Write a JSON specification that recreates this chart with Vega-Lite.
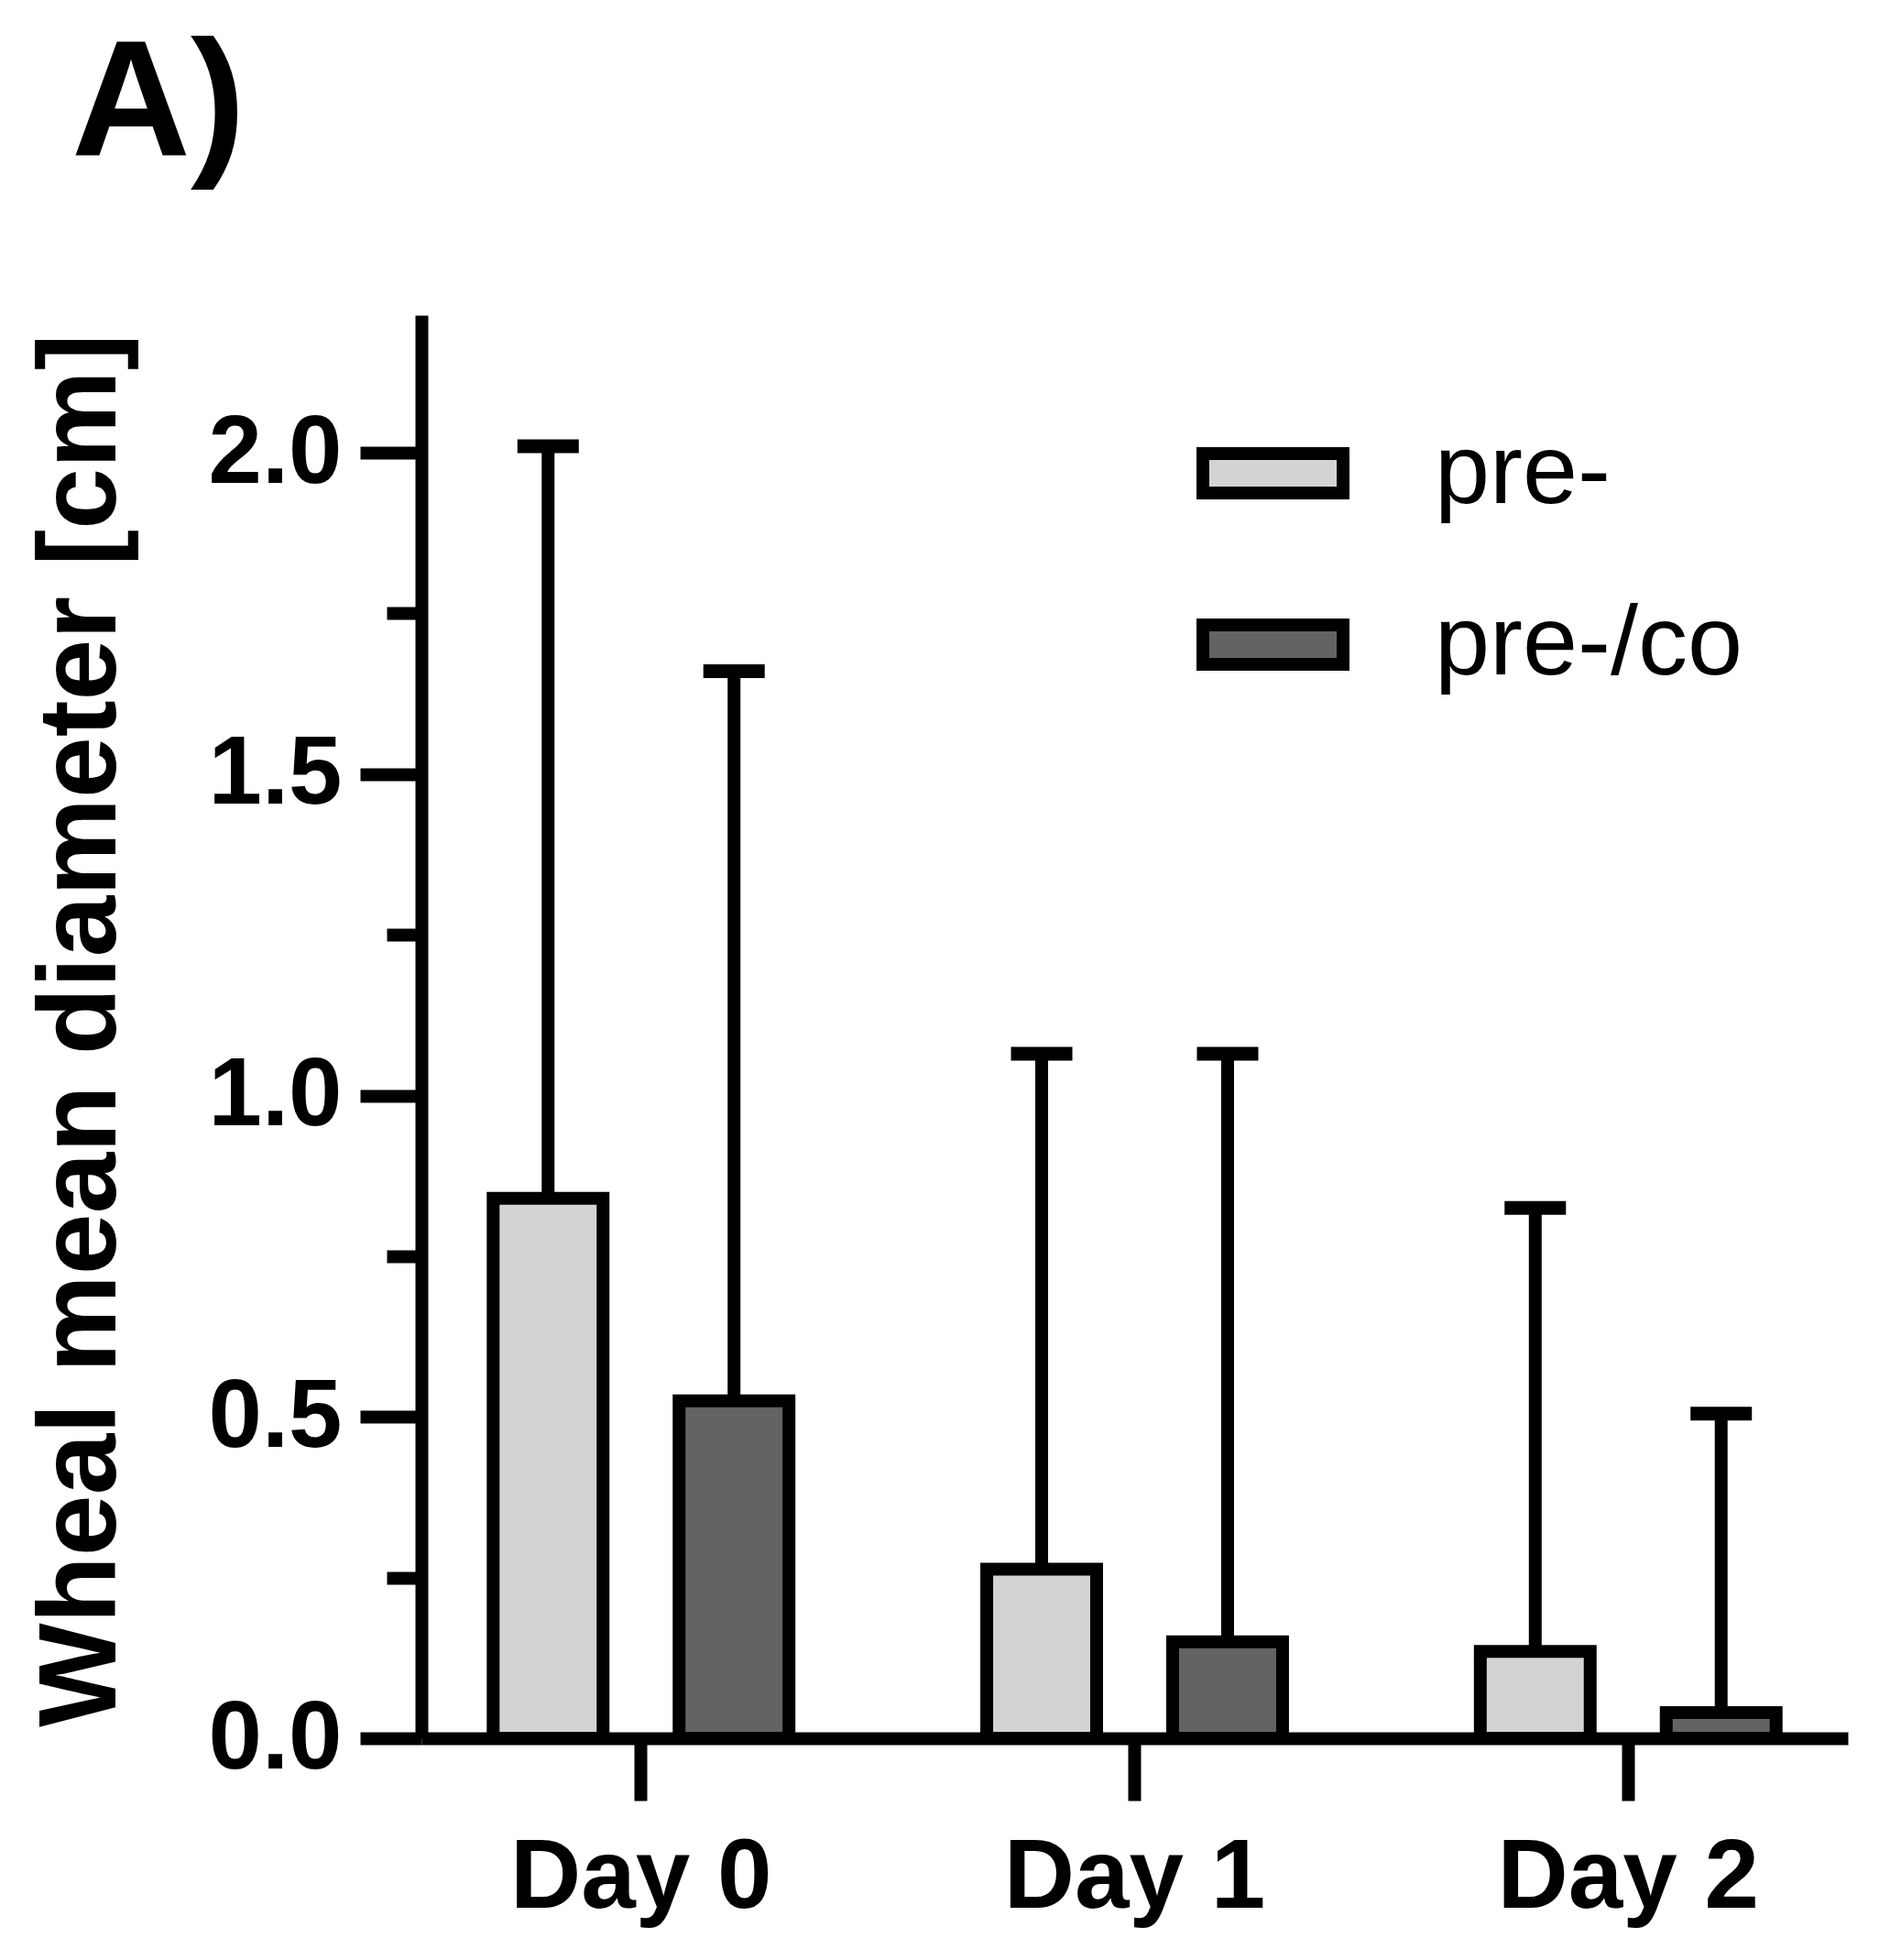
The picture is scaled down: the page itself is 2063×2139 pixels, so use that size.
{
  "$schema": "https://vega.github.io/schema/vega-lite/v6.json",
  "autosize": "none",
  "padding": {"left": 460, "top": 344, "right": 46, "bottom": 242},
  "width": 1557,
  "height": 1553,
  "background": "white",
  "config": {
    "view": {"stroke": null},
    "font": "Liberation Sans"
  },
  "title": {
    "text": "A)",
    "anchor": "start",
    "frame": "group",
    "baseline": "alphabetic",
    "offset": -6,
    "dx": -382,
    "fontSize": 180,
    "fontWeight": "bold",
    "font": "Liberation Sans",
    "color": "black"
  },
  "data": {
    "values": [
      {"day": "Day 0", "group": "pre-", "mean": 0.84, "upper": 2.01},
      {"day": "Day 0", "group": "pre-/co", "mean": 0.525, "upper": 1.66},
      {"day": "Day 1", "group": "pre-", "mean": 0.263, "upper": 1.065},
      {"day": "Day 1", "group": "pre-/co", "mean": 0.15, "upper": 1.065},
      {"day": "Day 2", "group": "pre-", "mean": 0.135, "upper": 0.825},
      {"day": "Day 2", "group": "pre-/co", "mean": 0.04, "upper": 0.505}
    ]
  },
  "encoding": {
    "x": {
      "field": "day",
      "type": "nominal",
      "sort": ["Day 0", "Day 1", "Day 2"],
      "scale": {"paddingInner": 0.25, "paddingOuter": 0.07},
      "axis": {
        "title": null,
        "labelAngle": 0,
        "labelFont": "Liberation Sans",
        "labelFontSize": 107,
        "labelFontWeight": "bold",
        "labelColor": "black",
        "labelPadding": 31,
        "labelBaseline": "top",
        "labelLimit": 2000,
        "domainColor": "black",
        "domainWidth": 14,
        "tickColor": "black",
        "tickWidth": 14,
        "tickSize": 68,
        "domainCap": "butt"
      }
    },
    "xOffset": {
      "field": "group",
      "type": "nominal",
      "scale": {"paddingInner": 0.409, "paddingOuter": 0.2}
    }
  },
  "layer": [
    {
      "mark": {"type": "bar", "stroke": "black", "strokeWidth": 14, "strokeJoin": "miter"},
      "encoding": {
        "y": {
          "field": "mean",
          "type": "quantitative",
          "scale": {"domain": [0, 2.214], "nice": false},
          "axis": {
            "title": "Wheal mean diameter [cm]",
            "titleFont": "Liberation Sans",
            "titleFontSize": 120,
            "titleFontWeight": "bold",
            "titleColor": "black",
            "titleAngle": -90,
            "titleX": -335,
            "titleY": 780,
            "titleAlign": "center",
            "titleBaseline": "alphabetic",
            "titleLimit": 3000,
            "values": [0, 0.25, 0.5, 0.75, 1, 1.25, 1.5, 1.75, 2],
            "labelExpr": "datum.value % 0.5 == 0 ? format(datum.value, '.1f') : ''",
            "labelFont": "Liberation Sans",
            "labelFontSize": 105,
            "labelFontWeight": "bold",
            "labelColor": "black",
            "labelPadding": 20,
            "labelLimit": 1000,
            "grid": false,
            "domainColor": "black",
            "domainWidth": 14,
            "tickColor": "black",
            "tickWidth": 14,
            "tickSize": {"condition": {"test": "datum.value % 0.5 != 0", "value": 38}, "value": 67}
          }
        },
        "fill": {
          "field": "group",
          "type": "nominal",
          "scale": {"domain": ["pre-", "pre-/co"], "range": ["#d3d3d3", "#636363"]},
          "legend": {
            "title": null,
            "orient": "none",
            "legendX": 846,
            "legendY": 89,
            "padding": 0,
            "symbolType": "M-1,-0.281H1V0.281H-1Z",
            "symbolSize": 23409,
            "symbolStrokeColor": "black",
            "symbolStrokeWidth": 14,
            "symbolOpacity": 1,
            "labelFont": "Liberation Sans",
            "labelFontSize": 108,
            "labelColor": "black",
            "labelOffset": 93,
            "rowPadding": 49,
            "labelLimit": 1000
          }
        }
      }
    },
    {
      "mark": {"type": "rule", "color": "black", "strokeWidth": 14},
      "encoding": {
        "y": {"field": "mean", "type": "quantitative"},
        "y2": {"field": "upper"}
      }
    },
    {
      "mark": {"type": "tick", "color": "black", "size": 67, "thickness": 15, "opacity": 1},
      "encoding": {
        "y": {"field": "upper", "type": "quantitative"}
      }
    }
  ]
}
